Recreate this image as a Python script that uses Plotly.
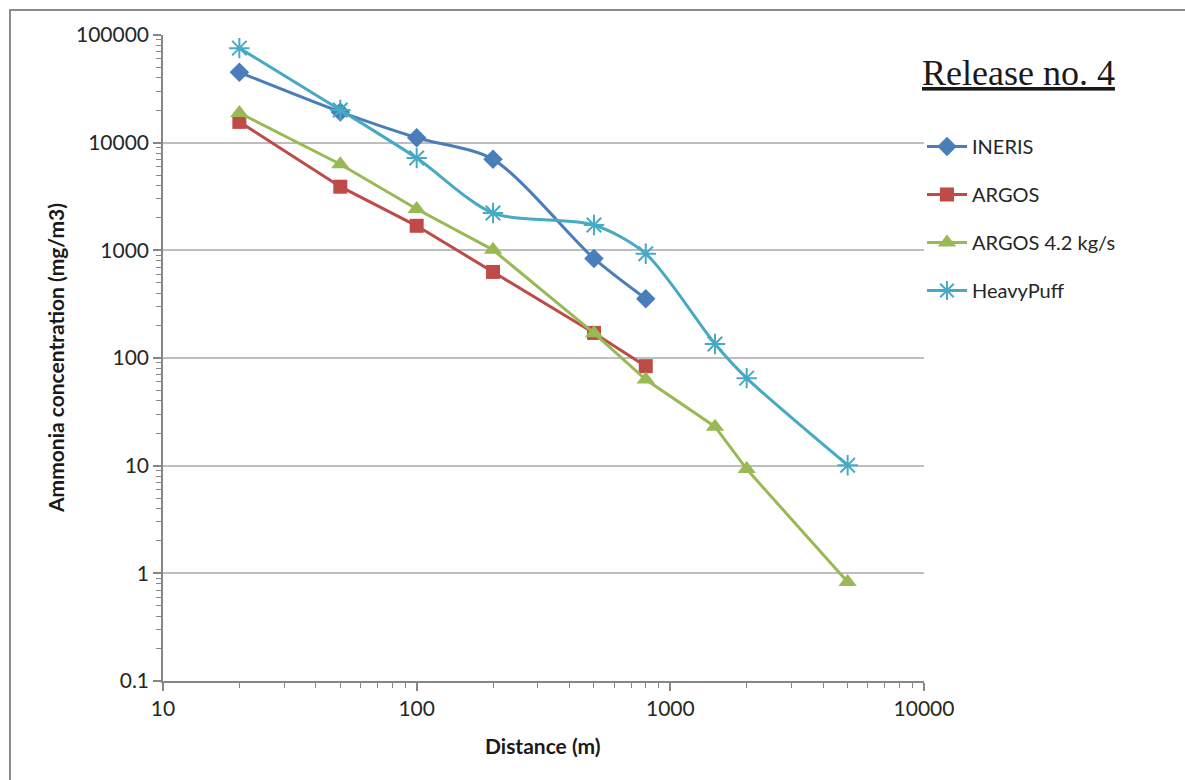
import plotly.graph_objects as go

distance_6 = [20, 50, 100, 200, 500, 800]
distance_9 = [20, 50, 100, 200, 500, 800, 1500, 2000, 5000]

ineris = [45000, 19300, 11100, 7000, 840, 355]
argos = [15600, 3900, 1690, 630, 171, 84]
argos_42 = [18900, 6300, 2420, 1010, 170, 63, 23, 9.3, 0.83]
heavypuff = [75500, 20100, 7200, 2220, 1720, 930, 135, 65, 10.1]

series_names = ["INERIS", "ARGOS", "ARGOS 4.2 kg/s", "HeavyPuff"]
colors = ["#4A7EBB", "#BE4B48", "#98B954", "#46AAC5"]

y_tickvals = [0.1, 1, 10, 100, 1000, 10000, 100000]
y_ticktext = ["0.1", "1", "10", "100", "1000", "10000", "100000"]
x_tickvals = [10, 100, 1000, 10000]
x_ticktext = ["10", "100", "1000", "10000"]

FONT = "Lato"
fig = go.Figure()

fig.add_trace(go.Scatter(
    x=distance_6, y=ineris, name=series_names[0], mode="lines+markers",
    line=dict(color=colors[0], width=3, shape="spline", smoothing=0.8),
    marker=dict(symbol="diamond", size=15, color=colors[0]),
    legendgroup="a"))
fig.add_trace(go.Scatter(
    x=distance_6, y=argos, name=series_names[1], mode="lines+markers",
    line=dict(color=colors[1], width=3),
    marker=dict(symbol="square", size=14, color=colors[1]),
    legendgroup="b"))
fig.add_trace(go.Scatter(
    x=distance_9, y=argos_42, name=series_names[2], mode="lines+markers",
    line=dict(color=colors[2], width=3),
    marker=dict(symbol="triangle-up", size=16, color=colors[2]),
    legendgroup="c"))
fig.add_trace(go.Scatter(
    x=distance_9, y=heavypuff, name=series_names[3], mode="lines+markers",
    line=dict(color=colors[3], width=3, shape="spline", smoothing=0.8),
    marker=dict(symbol="asterisk-open", size=17, color=colors[3],
                line=dict(color=colors[3], width=2)),
    legendgroup="d"))

axis_col = "#868686"
fig.update_xaxes(
    type="log", range=[1, 4], tickvals=x_tickvals, ticktext=x_ticktext,
    showgrid=False, showline=True, linecolor=axis_col, linewidth=1.5,
    ticks="outside", ticklen=8, tickcolor=axis_col, tickwidth=1.5,
    tickfont=dict(family=FONT, size=21, color="#262626"),
    minor=dict(ticks="outside", ticklen=5, tickcolor=axis_col, tickwidth=1, dtick="D1", showgrid=False),
    zeroline=False)
fig.update_yaxes(
    type="log", range=[-1, 5], tickvals=y_tickvals, ticktext=y_ticktext,
    showgrid=True, gridcolor="#BEBEBE", gridwidth=1.5,
    showline=True, linecolor=axis_col, linewidth=1.5,
    ticks="outside", ticklen=8, tickcolor=axis_col, tickwidth=1.5,
    tickfont=dict(family=FONT, size=21, color="#262626"),
    minor=dict(ticks="outside", ticklen=5, tickcolor=axis_col, tickwidth=1, dtick="D1", showgrid=False),
    zeroline=False)

L, T, R, B = 163, 35, 261, 99
W, H = 1185, 780
pw, ph = W - L - R, H - T - B

def px(x):
    return (x - L) / pw

def py(y):
    return (H - B - y) / ph

fig.update_layout(
    width=W, height=H,
    margin=dict(l=L, r=R, t=T, b=B, autoexpand=False),
    paper_bgcolor="white", plot_bgcolor="white",
    showlegend=True,
    legend=dict(x=px(922), y=py(127), xanchor="left", yanchor="top",
                font=dict(family=FONT, size=20, color="#262626"),
                tracegroupgap=19, traceorder="grouped",
                bgcolor="rgba(0,0,0,0)", itemwidth=40),
    shapes=[dict(type="rect", xref="paper", yref="paper",
                 x0=px(10), x1=px(1200), y0=py(10), y1=py(800),
                 line=dict(color="#8C8C8C", width=2), fillcolor="rgba(0,0,0,0)",
                 layer="below")],
    annotations=[
        dict(text="<u>Release no. 4</u>", x=px(920), y=py(73), xref="paper", yref="paper",
             xanchor="left", yanchor="middle", showarrow=False,
             font=dict(family="Liberation Serif", size=36, color="#1a1a1a")),
        dict(text="<b>Ammonia concentration (mg/m3)</b>", x=px(55), y=py(358),
             xref="paper", yref="paper", textangle=-90, showarrow=False,
             xanchor="center", yanchor="middle",
             font=dict(family=FONT, size=21, color="#1a1a1a")),
        dict(text="<b>Distance (m)</b>", x=px(543), y=py(745),
             xref="paper", yref="paper", showarrow=False,
             xanchor="center", yanchor="middle",
             font=dict(family=FONT, size=21, color="#1a1a1a")),
    ],
)

fig.write_html("out.html")
